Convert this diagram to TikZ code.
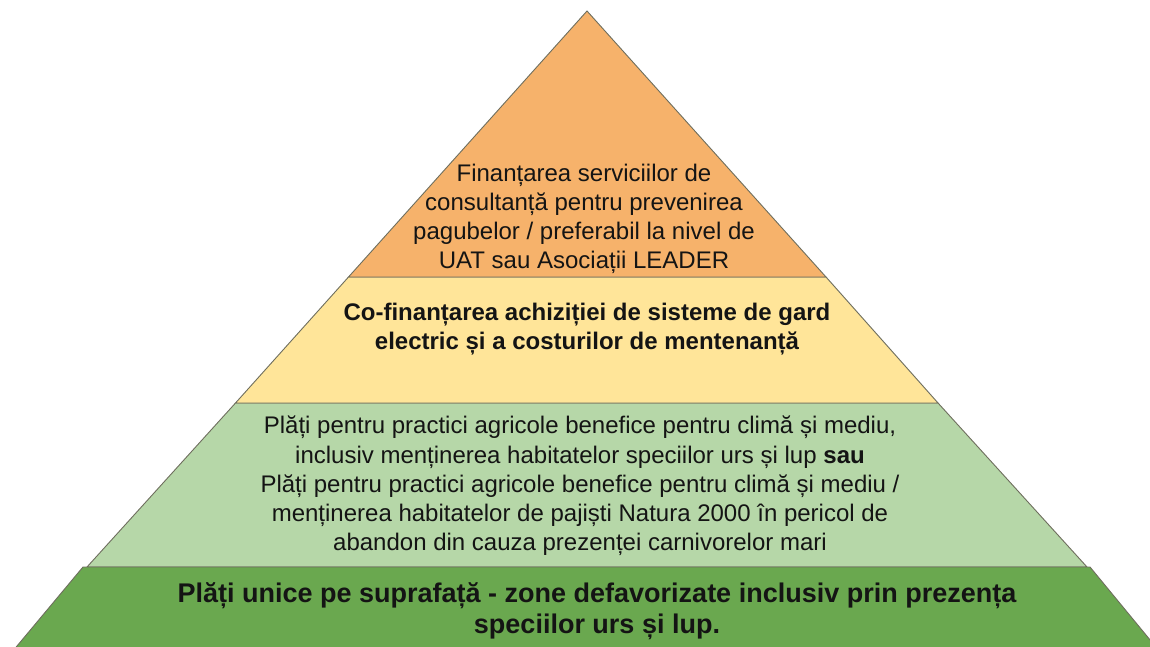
\documentclass[tikz,border=0pt]{standalone}
\usepackage{fontspec}
\setmainfont{Liberation Sans}
\definecolor{orangeL}{HTML}{F6B26B}
\definecolor{yellowL}{HTML}{FFE599}
\definecolor{greenL}{HTML}{B6D7A8}
\definecolor{greenD}{HTML}{6AA84F}
\definecolor{edgeC}{HTML}{6E6E5E}
\definecolor{txtC}{HTML}{141414}
\begin{document}
\begin{tikzpicture}[x=1pt,y=-1pt,
  band/.style={draw=edgeC,line width=0.9pt,line join=miter},
  lbl/.style={align=center,text=txtC,inner sep=0pt,font=\fontsize{24}{29.2}\selectfont},
  lblb/.style={lbl,font=\fontsize{24}{29.5}\selectfont\bfseries},
  lblbig/.style={lbl,font=\fontsize{27}{30.5}\selectfont\bfseries}]
\useasboundingbox (0,0) rectangle (1150,647);
\clip (0,0) rectangle (1150,647);
% bands
\fill[white] (0,0) rectangle (1150,647);
\draw[band,fill=greenL] (235.5,403) -- (938,403) -- (1087,567) -- (87,567) -- cycle;
\draw[band,fill=greenD] (83,567) -- (1090,567) -- (1160,652) -- (12,652) -- cycle;
\draw[band,fill=yellowL] (348.5,277) -- (826,277) -- (938,403) -- (235.5,403) -- cycle;
\draw[band,fill=orangeL] (587,11) -- (826,277) -- (348.5,277) -- cycle;
% labels
\node[lbl] (t1) at (584,219) {Finanțarea serviciilor de\\consultanță pentru prevenirea\\pagubelor / preferabil la nivel de\\UAT sau Asociații LEADER};
\node[lblb] (t2) at (587,329) {Co-finanțarea achiziției de sisteme de gard\\electric și a costurilor de mentenanță};
\node[lbl] (t3) at (580,486) {Plăți pentru practici agricole benefice pentru climă și mediu,\\inclusiv menținerea habitatelor speciilor urs și lup \textbf{sau}\\Plăți pentru practici agricole benefice pentru climă și mediu /\\menținerea habitatelor de pajiști Natura 2000 în pericol de\\abandon din cauza prezenței carnivorelor mari};
\node[lblbig] (t4) at (597,611) {Plăți unice pe suprafață - zone defavorizate inclusiv prin prezența\\speciilor urs și lup.};
\end{tikzpicture}
\end{document}
